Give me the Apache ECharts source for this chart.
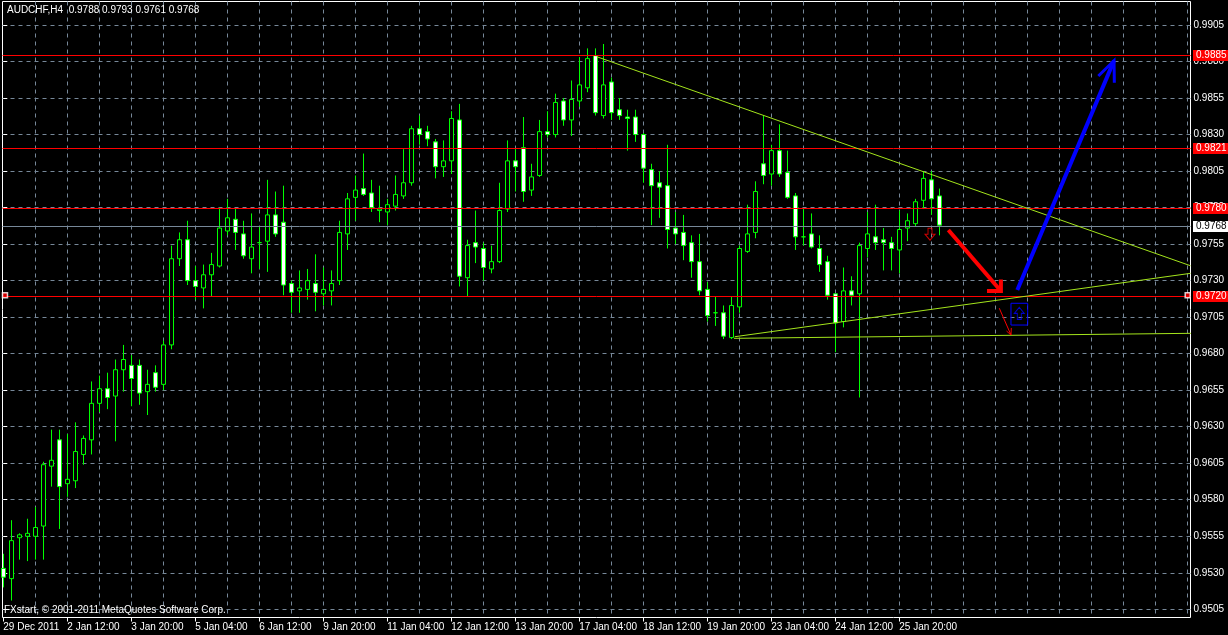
<!DOCTYPE html>
<html><head><meta charset="utf-8">
<script src="https://cdn.jsdelivr.net/npm/echarts@6/dist/echarts.min.js"></script>
<style>html,body{margin:0;padding:0;background:#000;}#c{width:1228px;height:635px;}</style>
</head><body><div id="c"></div>
<script>
const FONT = "'Liberation Sans',Arial,sans-serif";

// x-axis tick labels (every 8 bars)
const xLabels = ['29 Dec 2011','2 Jan 12:00','3 Jan 20:00','5 Jan 04:00','6 Jan 12:00','9 Jan 20:00','11 Jan 04:00','12 Jan 12:00','13 Jan 20:00','17 Jan 04:00','18 Jan 12:00','19 Jan 20:00','23 Jan 04:00','24 Jan 12:00','25 Jan 20:00'];
const xLabelBars = [0,8,16,24,32,40,48,56,64,72,80,88,96,104,112];
const xGridBars = [4,8,12,16,20,24,28,32,36,40,44,48,52,56,60,64,68,72,76,80,84,88,92,96,100,104,108,112,116,120,124,128,132,136,140,144,148];
// y-axis tick labels
const yTicks = [0.9505,0.9530,0.9555,0.9580,0.9605,0.9630,0.9655,0.9680,0.9705,0.9730,0.9755,0.9780,0.9805,0.9830,0.9855,0.9880,0.9905];

// AUDCHF H4 candles
const open = [0.9533,0.9526,0.9554,0.9555,0.9555,0.9562,0.9603,0.9621,0.9591,0.9593,
0.9611,0.9621,0.9646,0.9656,0.9651,0.9669,0.9672,0.9672,0.9654,0.9667,
0.9659,0.9686,0.9745,0.9758,0.9730,0.9725,0.9734,0.9740,0.9764,0.9772,
0.9762,0.9745,0.9756,0.9757,0.9775,0.9770,0.9728,0.9723,0.9724,0.9728,
0.9721,0.9723,0.9730,0.9762,0.9787,0.9793,0.9790,0.9778,0.9777,0.9781,
0.9788,0.9797,0.9834,0.9832,0.9825,0.9808,0.9812,0.9840,0.9732,0.9756,
0.9752,0.9738,0.9743,0.9779,0.9812,0.9821,0.9792,0.9802,0.9832,0.9830,
0.9853,0.9840,0.9853,0.9862,0.9884,0.9843,0.9866,0.9847,0.9842,0.9842,
0.9830,0.9806,0.9797,0.9795,0.9766,0.9763,0.9756,0.9743,0.9724,0.9708,
0.9708,0.9691,0.9712,0.9750,0.9763,0.9810,0.9803,0.9819,0.9804,0.9788,
0.9760,0.9762,0.9752,0.9743,0.9721,0.9702,0.9723,0.9721,0.9752,0.9760,
0.9758,0.9756,0.9751,0.9766,0.9769,0.9785,0.9799,0.9788];
const close = [0.9527,0.9552,0.9556,0.9557,0.9561,0.9604,0.9607,0.9589,0.9594,0.9613,
0.9622,0.9646,0.9656,0.9650,0.9669,0.9676,0.9663,0.9653,0.9659,0.9657,
0.9686,0.9745,0.9758,0.9730,0.9726,0.9734,0.9741,0.9766,0.9773,0.9763,
0.9747,0.9753,0.9756,0.9775,0.9762,0.9727,0.9722,0.9725,0.9730,0.9722,
0.9724,0.9728,0.9763,0.9786,0.9792,0.9789,0.9780,0.9779,0.9782,0.9789,
0.9797,0.9834,0.9830,0.9827,0.9808,0.9812,0.9841,0.9733,0.9754,0.9753,
0.9739,0.9743,0.9778,0.9812,0.9808,0.9791,0.9801,0.9832,0.9830,0.9852,
0.9840,0.9854,0.9864,0.9882,0.9845,0.9864,0.9845,0.9843,0.9841,0.9830,
0.9807,0.9795,0.9794,0.9765,0.9762,0.9754,0.9743,0.9723,0.9706,0.9708,
0.9692,0.9713,0.9752,0.9762,0.9791,0.9802,0.9819,0.9803,0.9787,0.9760,
0.9760,0.9753,0.9741,0.9720,0.9701,0.9723,0.9720,0.9754,0.9762,0.9756,
0.9756,0.9752,0.9765,0.9771,0.9784,0.9800,0.9786,0.9768];
const low = [0.9520,0.9511,0.9539,0.9538,0.9539,0.9539,0.9589,0.9560,0.9582,0.9588,
0.9604,0.9611,0.9640,0.9642,0.9620,0.9654,0.9644,0.9645,0.9638,0.9654,
0.9655,0.9683,0.9740,0.9727,0.9717,0.9711,0.9719,0.9739,0.9761,0.9751,
0.9745,0.9735,0.9738,0.9736,0.9760,0.9720,0.9708,0.9708,0.9717,0.9709,
0.9713,0.9713,0.9727,0.9751,0.9771,0.9788,0.9777,0.9770,0.9768,0.9778,
0.9786,0.9795,0.9823,0.9822,0.9800,0.9801,0.9803,0.9726,0.9719,0.9742,
0.9730,0.9735,0.9742,0.9777,0.9791,0.9784,0.9788,0.9801,0.9828,0.9828,
0.9836,0.9829,0.9849,0.9859,0.9843,0.9841,0.9840,0.9840,0.9819,0.9825,
0.9797,0.9768,0.9773,0.9752,0.9755,0.9744,0.9732,0.9720,0.9702,0.9699,
0.9690,0.9690,0.9708,0.9749,0.9759,0.9796,0.9795,0.9801,0.9786,0.9751,
0.9754,0.9752,0.9736,0.9717,0.9681,0.9698,0.9713,0.9650,0.9746,0.9751,
0.9737,0.9737,0.9735,0.9757,0.9767,0.9779,0.9775,0.9761];
const high = [0.9543,0.9566,0.9557,0.9567,0.9575,0.9606,0.9628,0.9628,0.9625,0.9633,
0.9624,0.9661,0.9665,0.9667,0.9676,0.9686,0.9679,0.9676,0.9669,0.9672,
0.9689,0.9754,0.9763,0.9771,0.9740,0.9741,0.9749,0.9780,0.9786,0.9779,
0.9771,0.9776,0.9767,0.9799,0.9791,0.9795,0.9730,0.9737,0.9738,0.9748,
0.9739,0.9737,0.9771,0.9790,0.9802,0.9817,0.9799,0.9795,0.9786,0.9802,
0.9820,0.9836,0.9843,0.9836,0.9827,0.9826,0.9846,0.9851,0.9758,0.9778,
0.9756,0.9754,0.9797,0.9826,0.9820,0.9842,0.9810,0.9840,0.9846,0.9858,
0.9855,0.9867,0.9883,0.9889,0.9889,0.9892,0.9869,0.9855,0.9847,0.9847,
0.9831,0.9810,0.9805,0.9823,0.9777,0.9775,0.9761,0.9762,0.9729,0.9719,
0.9713,0.9719,0.9754,0.9782,0.9798,0.9843,0.9823,0.9837,0.9819,0.9790,
0.9779,0.9776,0.9761,0.9747,0.9721,0.9739,0.9733,0.9756,0.9777,0.9782,
0.9766,0.9760,0.9778,0.9776,0.9786,0.9805,0.9805,0.9793];

// horizontal levels
const redLevels = [0.9885, 0.9821, 0.9780, 0.9720];
const currentPrice = 0.9768;

// drawn objects, in [bar index, price]
const trendDown = [[74.18,0.98833],[148.4,0.97402]];
const trendUp = [[91.43,0.96916],[148.4,0.97350]];
const supportLine = [[91.34,0.96905],[149.46,0.96940]];
const redArrowShaft = [[118.13,0.97647],[124.7,0.97229]];
const redArrowHead = [[122.96,0.97229],[124.7,0.97229],[124.7,0.97308]];
const blueArrowShaft = [[126.75,0.97236],[138.84,0.98806]];
const blueArrowHead = [[136.88,0.98701],[138.84,0.98806],[138.88,0.98655]];
const thinRedArrow = [[124.5,0.97111],[125.96,0.96928]];
const thinRedHead = [[125.4,0.96955],[125.96,0.96928],[126.0,0.96976]];
const blueBox = [[125.96,0.97145],[128.05,0.97145],[128.05,0.96996],[125.96,0.96996],[125.96,0.97145]];
const upArrowMark = [[127.0,0.97076]];
const downArrowMark = [[115.84,0.97618]];
const levelEnds = [[0.21,0.9720],[148.05,0.9720]];

const X_MIN = -0.1, X_MAX = 148.4;
const candles = open.map((o,i)=>[i,o,close[i],low[i],high[i]]);

const chart = echarts.init(document.getElementById('c'), null, {renderer:'canvas'});

function lineSeries(data, color, width, z, clip){
  return {type:'line', data, symbol:'none', silent:true, z: z||5, clip: clip!==false,
    lineStyle:{color, width, cap:'butt', join:'miter'}, animation:false};
}
// horizontal price level: crisp 1px line across the plot and a tag right of it
function levelSeries(values, lineColor, bg, fg){
  return {type:'custom', data: values.map(v=>[v]), silent:true, z:6, animation:false, clip:false,
    encode:{y:0},
    renderItem(params, api){
      const v = api.value(0);
      const cs = params.coordSys;
      const y = Math.ceil(api.coord([X_MIN, v])[1]) + 0.5;
      return {type:'group', children:[
        {type:'line', shape:{x1:cs.x, y1:y, x2:cs.x+cs.width, y2:y}, style:{stroke:lineColor, lineWidth:1}},
        {type:'text', x:cs.x+cs.width+2.5, y:y, style:{text:v.toFixed(4), fill:fg, backgroundColor:bg,
          padding:[1,3,0,3], font:'10px '+FONT, verticalAlign:'middle', align:'left'}}
      ]};
    }};
}

chart.setOption({
  animation:false,
  backgroundColor:'#000',
  graphic:[
    {type:'text', left:7, top:5, z:100, style:{text:'AUDCHF,H4  0.9788 0.9793 0.9761 0.9768', fill:'#fff', font:'10px '+FONT}},
    {type:'text', left:4, top:605, z:100, style:{text:'FXstart, \u00a9 2001-2011 MetaQuotes Software Corp.', fill:'#fff', font:'10px '+FONT}}
  ],
  grid:{left:2.5, right:37.5, top:1.5, bottom:17.5, show:true, borderColor:'#fff', borderWidth:1, backgroundColor:'transparent'},
  xAxis:[
    {type:'value', min:X_MIN, max:X_MAX, position:'bottom',
      axisLine:{show:false},
      axisTick:{show:true, length:4, customValues:xLabelBars, lineStyle:{color:'#fff'}},
      axisLabel:{customValues:xLabelBars, formatter:v=>xLabels[Math.round(v/8)], align:'left', color:'#fff', fontSize:10, fontFamily:FONT, margin:5},
      splitLine:{show:false}},
    {type:'value', min:X_MIN, max:X_MAX, position:'top',
      axisLine:{show:false}, axisLabel:{show:false},
      axisTick:{show:false, customValues:xGridBars},
      splitLine:{show:true, lineStyle:{color:'#778899', type:[4,4], width:1}}}
  ],
  yAxis:{type:'value', position:'right', min:0.949939, max:0.992109, scale:true,
    axisLine:{show:false},
    axisTick:{show:true, length:4, customValues:yTicks, lineStyle:{color:'#fff'}},
    axisLabel:{customValues:yTicks, formatter:v=>v.toFixed(4), color:'#fff', fontSize:10, fontFamily:FONT, margin:3},
    splitLine:{show:true, lineStyle:{color:'#778899', type:[4,4], width:1}}},
  series:[
    {type:'candlestick', data:candles, encode:{x:0, y:[1,2,3,4]}, barWidth:5, z:3,
      itemStyle:{color:'#000', color0:'#fff', borderColor:'#00ff00', borderColor0:'#00ff00', borderColorDoji:'#00ff00', borderWidth:1}},
    levelSeries([currentPrice], '#778899', '#fff', '#000'),
    levelSeries(redLevels, '#ff0000', '#ff0000', '#fff'),
    lineSeries(trendDown, '#a4e51c', 1, 7),
    lineSeries(trendUp, '#a4e51c', 1, 7),
    lineSeries(supportLine, '#a4e51c', 1, 7, false),
    lineSeries(redArrowShaft, '#ff0000', 4, 8),
    lineSeries(redArrowHead, '#ff0000', 4, 8),
    lineSeries(blueArrowShaft, '#0000ff', 4, 8, false),
    lineSeries(blueArrowHead, '#0000ff', 3, 8, false),
    lineSeries(thinRedArrow, '#ff0000', 1, 8),
    lineSeries(thinRedHead, '#ff0000', 1, 8),
    lineSeries(blueBox, '#0000ff', 1, 8),
    {type:'scatter', data:upArrowMark, silent:true, z:9, symbol:'path://M5,0 L10,6 L7,6 L7,12 L3,12 L3,6 L0,6 Z', symbolSize:[10,12],
      itemStyle:{color:'rgba(0,0,0,0)', borderColor:'#0000ff', borderWidth:1}},
    {type:'scatter', data:downArrowMark, silent:true, z:9, symbol:'path://M3,0 L7,0 L7,6 L10,6 L5,12 L0,6 L3,6 Z', symbolSize:[10,12],
      itemStyle:{color:'rgba(0,0,0,0)', borderColor:'#ff0000', borderWidth:1}},
    {type:'scatter', data:levelEnds, silent:true, z:9, clip:false, symbol:'rect', symbolSize:5,
      itemStyle:{color:'#ff0000', borderColor:'#fff', borderWidth:1.5}}
  ]
});
</script></body></html>
